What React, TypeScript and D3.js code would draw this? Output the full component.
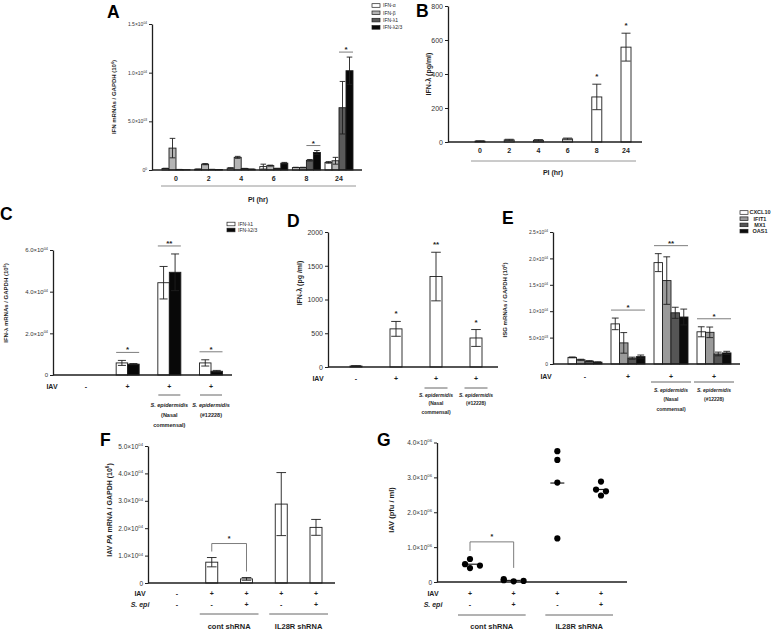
import * as d3 from "d3";
import { useEffect, useRef } from "react";

const FONT = "'Liberation Sans', Arial, sans-serif";
const INK = "#1e1e1e";
const RULE = "#8a8a8a";

// A: IFN mRNA time course
const timeLabels = ["0", "2", "4", "6", "8", "24"];
const ifnSeries = ["IFN-α", "IFN-β", "IFN-λ1", "IFN-λ2/3"];
const ifnFills = ["#ffffff", "#b4b4b4", "#5a5a5a", "#080808"];
const ifnMean = [
  [150, 2250, 50, 30],
  [80, 600, 60, 40],
  [200, 1300, 150, 80],
  [350, 450, 150, 700],
  [250, 250, 1000, 1800],
  [780, 950, 6400, 10200],
];
const ifnErr = [
  [30, 1000, 10, 0],
  [20, 60, 10, 10],
  [30, 100, 20, 10],
  [250, 50, 30, 80],
  [30, 30, 80, 200],
  [80, 350, 2700, 1400],
];
const ifnSig = ["", "", "", "", "*", "*"];

// B: IFN-λ protein time course
const lambdaPgTimeMean = [5, 12, 10, 18, 265, 558];
const lambdaPgTimeErr = [2, 4, 4, 5, 75, 82];
const lambdaPgTimeSig = ["", "", "", "", "*", "*"];

// C, D, E: IAV +/- S. epidermidis
const iavSigns = ["-", "+", "+", "+"];
const strainLabels = [[], [], ["S. epidermidis", "(Nasal", "commensal)"], ["S. epidermidis", "(#12228)"]];

const lambdaSeries = ["IFN-λ1", "IFN-λ2/3"];
const lambdaFills = ["#ffffff", "#080808"];
const lambdaMrnaMean = [[0, 0], [5800, 5200], [44300, 49300], [5800, 1800]];
const lambdaMrnaErr = [[0, 0], [1200, 300], [7800, 8800], [1500, 400]];
const lambdaMrnaSig = ["", "*", "**", "*"];

const lambdaPgMean = [15, 565, 1340, 430];
const lambdaPgErr = [5, 110, 360, 125];
const lambdaPgSig = ["", "*", "**", "*"];

const isgSeries = ["CXCL10", "IFIT1", "MX1", "OAS1"];
const isgFills = ["#ffffff", "#9a9a9a", "#555555", "#0c0c0c"];
const isgMean = [
  [1250, 800, 550, 350],
  [7600, 4000, 1100, 1400],
  [19200, 15800, 9700, 8900],
  [6100, 6000, 1900, 2100],
];
const isgErr = [
  [80, 100, 80, 60],
  [1100, 1950, 200, 300],
  [1700, 4500, 1050, 1500],
  [950, 1000, 350, 300],
];
const isgSig = ["", "*", "**", "*"];

// F, G: shRNA knockdown
const shGroups = ["cont shRNA", "IL28R shRNA"];
const paIav = ["-", "+", "+", "+", "+"];
const paSepi = ["-", "-", "+", "-", "+"];
const paMean = [0, 7600, 1500, 28800, 20300];
const paErr = [0, 1700, 500, 11500, 2900];

const pfuIav = ["+", "+", "+", "+"];
const pfuSepi = ["-", "+", "-", "+"];
const pfuValues = [
  [510000, 660000, 470000, 400000],
  [20000, 50000, 30000, 80000],
  [3750000, 3500000, 2850000, 1250000],
  [2880000, 2650000, 2600000, 2480000],
];

type Seg = { t: string; sup?: boolean; it?: boolean };

function rich(g: any, x: number, y: number, segs: Seg[] | string, size: number, o: any = {}) {
  const t = g
    .append("text")
    .attr("font-family", FONT)
    .attr("font-size", size)
    .attr("font-weight", o.weight || "normal")
    .attr("font-style", o.italic ? "italic" : "normal")
    .attr("text-anchor", o.anchor || "start")
    .attr("fill", o.fill || INK);
  if (o.rotate) t.attr("transform", `translate(${x},${y}) rotate(-90)`);
  else t.attr("x", x).attr("y", y);
  const list = typeof segs === "string" ? [{ t: segs }] : segs;
  let up = false;
  list.forEach((s: Seg) => {
    const sp = t.append("tspan").text(s.t);
    if (s.sup && !up) {
      sp.attr("font-size", size * 0.65).attr("dy", -size * 0.4);
      up = true;
    } else if (!s.sup && up) {
      sp.attr("dy", size * 0.4);
      up = false;
    }
    if (s.it) sp.attr("font-style", "italic");
  });
  return t;
}

function sciParts(v: number): [string, string] {
  if (v === 0) return ["0", ""];
  const e = Math.floor(Math.log10(v));
  return [(v / 10 ** e).toFixed(1) + "×10", String(e).padStart(2, "0")];
}

function leftAxis(g: any, y: any, x0: number, ticks: number[], size: number, sci: boolean, zeroSup = false) {
  const ax = g
    .append("g")
    .attr("transform", `translate(${x0},0)`)
    .call(d3.axisLeft(y).tickValues(ticks).tickSize(3).tickSizeOuter(0).tickPadding(2));
  ax.select(".domain").attr("stroke", INK).attr("stroke-width", 1.3);
  ax.selectAll(".tick line").attr("stroke", INK).attr("stroke-width", 1);
  ax.selectAll(".tick text")
    .attr("font-family", FONT)
    .attr("font-size", size)
    .attr("fill", "#333")
    .each(function (this: any, v: any) {
      const [m, e] = sci ? sciParts(v) : [String(v), ""];
      const sup = e || (zeroSup && v === 0 ? "0" : "");
      const t = d3.select(this);
      t.text(null);
      t.append("tspan").text(m);
      if (sup) t.append("tspan").attr("font-size", size * 0.65).attr("dy", -size * 0.4).text(sup);
    });
}

function baseLine(g: any, x0: number, x1: number, y: number) {
  g.append("line").attr("x1", x0).attr("x2", x1).attr("y1", y).attr("y2", y).attr("stroke", INK).attr("stroke-width", 1.3);
}

function rule(g: any, x0: number, x1: number, y: number, color = RULE) {
  g.append("line").attr("x1", x0).attr("x2", x1).attr("y1", y).attr("y2", y).attr("stroke", color).attr("stroke-width", 0.9);
}

function errBar(g: any, cx: number, v: number, e: number, y: any, cap: number) {
  if (!e) return;
  const p = d3.path();
  p.moveTo(cx, y(v + e));
  p.lineTo(cx, y(Math.max(0, v - e)));
  p.moveTo(cx - cap / 2, y(v + e));
  p.lineTo(cx + cap / 2, y(v + e));
  if (v - e > 0) {
    p.moveTo(cx - cap / 2, y(v - e));
    p.lineTo(cx + cap / 2, y(v - e));
  }
  g.append("path").attr("d", p.toString()).attr("stroke", INK).attr("stroke-width", 0.9).attr("fill", "none");
}

function groupedBars(g: any, means: number[][], errs: number[][], series: string[], fills: string[], x: any, inner: any, y: any, capFrac: number) {
  means.forEach((row, gi) =>
    row.forEach((v, si) => {
      if (!v) return;
      const bx = x(gi) + inner(series[si]);
      const bw = inner.bandwidth();
      g.append("rect")
        .attr("x", bx)
        .attr("y", y(v))
        .attr("width", bw)
        .attr("height", y(0) - y(v))
        .attr("fill", fills[si])
        .attr("stroke", INK)
        .attr("stroke-width", 0.9);
      errBar(g, bx + bw / 2, v, errs[gi][si], y, bw * capFrac);
    })
  );
}

function sigMark(g: any, xl: number, xr: number, yLine: number, mark: string, withLine: boolean) {
  if (withLine) rule(g, xl, xr, yLine, "#6e6e6e");
  rich(g, (xl + xr) / 2, withLine ? yLine : yLine + 2, mark, 8, { anchor: "middle", weight: "bold" });
}

function groupSig(g: any, marks: string[], means: number[][], errs: number[][], series: string[], from: number, to: number, x: any, inner: any, y: any, gap: number) {
  marks.forEach((m, gi) => {
    if (!m) return;
    const top = d3.min(d3.range(from, to + 1), (si) => y(means[gi][si] + errs[gi][si])) as number;
    const xl = x(gi) + inner(series[from]);
    const xr = x(gi) + inner(series[to]) + inner.bandwidth();
    sigMark(g, xl, xr, top - gap, m, true);
  });
}

function legend(g: any, x: number, y0: number, step: number, series: string[], fills: string[], size: number, textX: number, anchor = "start", weight = "normal") {
  series.forEach((s, i) => {
    const yy = y0 + i * step;
    g.append("rect").attr("x", x).attr("y", yy - 1.8).attr("width", 8).attr("height", 3.6).attr("fill", fills[i]).attr("stroke", INK).attr("stroke-width", 0.7);
    rich(g, textX, yy + size * 0.35, s, size, { anchor, weight });
  });
}

function letter(g: any, s: string, x: number, y: number) {
  rich(g, x, y, s, 17.5, { weight: "bold", fill: "#000" });
}

function strainBlock(g: any, x: any, yLine: number, halfW: number, rows: number[], size: number) {
  strainLabels.forEach((lines, gi) => {
    if (!lines.length) return;
    rule(g, x(gi) - halfW, x(gi) + halfW, yLine, "#555");
    lines.forEach((l, i) =>
      rich(g, x(gi), rows[i], i === 0 ? [{ t: l, it: true }] : l, size, { anchor: "middle", weight: "bold" })
    );
  });
}

function signRow(g: any, x: any, signs: string[], y: number, size: number) {
  signs.forEach((s, i) => rich(g, x(i), y, s, size, { anchor: "middle", weight: "bold" }));
}

function drawA(svg: any) {
  const g = svg.append("g");
  const y = d3.scaleLinear().domain([0, 15000]).range([170, 24]);
  const x = d3.scalePoint<number>().domain(d3.range(timeLabels.length)).range([176, 339]);
  const inner = d3.scaleBand().domain(ifnSeries).range([-14, 14]);
  leftAxis(g, y, 152, [0, 5000, 10000, 15000], 5, true, true);
  groupedBars(g, ifnMean, ifnErr, ifnSeries, ifnFills, x, inner, y, 0.8);
  baseLine(g, 152, 362, y(0));
  groupSig(g, ifnSig, ifnMean, ifnErr, ifnSeries, 2, 3, x, inner, y, 5);
  timeLabels.forEach((t, i) => rich(g, x(i), 181, t, 7, { anchor: "middle", weight: "bold" }));
  rule(g, 161, 356, 186);
  rich(g, 258, 202, "PI (hr)", 7, { anchor: "middle", weight: "bold" });
  rich(g, 116, 97, [{ t: "IFN mRNAs / GAPDH (10" }, { t: "6", sup: true }, { t: ")" }], 6, { anchor: "middle", weight: "bold", rotate: true });
  legend(g, 372, 5.5, 7.3, ifnSeries, ifnFills, 5, 383);
  letter(g, "A", 107, 18);
}

function drawB(svg: any) {
  const g = svg.append("g");
  const y = d3.scaleLinear().domain([0, 800]).range([142, 6]);
  const x = d3.scalePoint<number>().domain(d3.range(timeLabels.length)).range([480, 626]);
  const inner = d3.scaleBand().domain([""]).range([-5, 5]);
  leftAxis(g, y, 448, [0, 200, 400, 600, 800], 7, false);
  groupedBars(g, lambdaPgTimeMean.map((v) => [v]), lambdaPgTimeErr.map((v) => [v]), [""], ["#fff"], x, inner, y, 0.9);
  baseLine(g, 448, 642, y(0));
  lambdaPgTimeSig.forEach((m, i) => {
    if (m) sigMark(g, x(i)!, x(i)!, y(lambdaPgTimeMean[i] + lambdaPgTimeErr[i]) - 7, m, false);
  });
  timeLabels.forEach((t, i) => rich(g, x(i), 153, t, 7, { anchor: "middle", weight: "bold" }));
  rule(g, 471, 636, 161);
  rich(g, 553, 175, "PI (hr)", 7, { anchor: "middle", weight: "bold" });
  rich(g, 431, 74, "IFN-λ (pg/ml)", 7, { anchor: "middle", weight: "bold", rotate: true });
  letter(g, "B", 416, 17);
}

function drawC(svg: any) {
  const g = svg.append("g");
  const y = d3.scaleLinear().domain([0, 60000]).range([375, 250]);
  const x = d3.scalePoint<number>().domain(d3.range(iavSigns.length)).range([86, 211]);
  const inner = d3.scaleBand().domain(lambdaSeries).range([-11.5, 11.5]);
  leftAxis(g, y, 53, [0, 20000, 40000, 60000], 6, true);
  groupedBars(g, lambdaMrnaMean, lambdaMrnaErr, lambdaSeries, lambdaFills, x, inner, y, 0.7);
  baseLine(g, 53, 232, y(0));
  groupSig(g, lambdaMrnaSig, lambdaMrnaMean, lambdaMrnaErr, lambdaSeries, 0, 1, x, inner, y, 8);
  rich(g, 52, 389, "IAV", 7, { anchor: "middle", weight: "bold" });
  signRow(g, x, iavSigns, 389, 7);
  strainBlock(g, x, 395, 11, [407, 417, 427], 5.5);
  rich(g, 8, 303, [{ t: "IFN-λ mRNAs / GAPDH (10" }, { t: "6", sup: true }, { t: ")" }], 6, { anchor: "middle", weight: "bold", rotate: true });
  legend(g, 227, 224, 6, lambdaSeries, lambdaFills, 5, 238);
  letter(g, "C", 0, 220);
}

function drawD(svg: any) {
  const g = svg.append("g");
  const y = d3.scaleLinear().domain([0, 2000]).range([367, 232]);
  const x = d3.scalePoint<number>().domain(d3.range(iavSigns.length)).range([356, 476]);
  const inner = d3.scaleBand().domain([""]).range([-6, 6]);
  leftAxis(g, y, 328, [0, 500, 1000, 1500, 2000], 7, false);
  groupedBars(g, lambdaPgMean.map((v) => [v]), lambdaPgErr.map((v) => [v]), [""], ["#fff"], x, inner, y, 0.8);
  baseLine(g, 328, 498, y(0));
  lambdaPgSig.forEach((m, i) => {
    if (m) sigMark(g, x(i)!, x(i)!, y(lambdaPgMean[i] + lambdaPgErr[i]) - 7, m, false);
  });
  rich(g, 318, 381, "IAV", 7, { anchor: "middle", weight: "bold" });
  signRow(g, x, iavSigns, 381, 7);
  strainBlock(g, x, 388, 11.5, [397, 405, 414], 5);
  rich(g, 302, 283, "IFN-λ (pg /ml)", 7, { anchor: "middle", weight: "bold", rotate: true });
  letter(g, "D", 287, 227);
}

function drawE(svg: any) {
  const g = svg.append("g");
  const y = d3.scaleLinear().domain([0, 25000]).range([364, 232]);
  const x = d3.scalePoint<number>().domain(d3.range(iavSigns.length)).range([585, 714]);
  const inner = d3.scaleBand().domain(isgSeries).range([-17, 17]);
  leftAxis(g, y, 553, [0, 5000, 10000, 15000, 20000, 25000], 5, true);
  groupedBars(g, isgMean, isgErr, isgSeries, isgFills, x, inner, y, 0.8);
  baseLine(g, 553, 740, y(0));
  groupSig(g, isgSig, isgMean, isgErr, isgSeries, 0, 3, x, inner, y, 8);
  rich(g, 546, 379, "IAV", 7, { anchor: "middle", weight: "bold" });
  signRow(g, x, iavSigns, 379, 7);
  strainBlock(g, x, 382, 20, [392, 401, 411], 5);
  rich(g, 507, 300, [{ t: "ISG mRNAs / GAPDH (10" }, { t: "6", sup: true }, { t: ")" }], 6, { anchor: "middle", weight: "bold", rotate: true });
  legend(g, 740, 212.5, 6.2, isgSeries, isgFills, 5.5, 760, "middle", "bold");
  letter(g, "E", 502, 224);
}

function shRows(g: any, x: any, iav: string[], sepi: string[], labelX: number, lineY: number, spans: number[][], size: number) {
  rich(g, labelX, 596, "IAV", size, { anchor: "middle", weight: "bold" });
  rich(g, labelX, 607, "S. epi", size, { anchor: "middle", weight: "bold", italic: true });
  signRow(g, x, iav, 596, size);
  sepi.forEach((s, i) => rich(g, x(i), 607, s, size, { anchor: "middle", weight: "bold" }));
  shGroups.forEach((name, k) => {
    const [a, b] = spans[k];
    rule(g, x(a) - 12, x(b) + 12, lineY, "#555");
    rich(g, (x(a) + x(b)) / 2, 629, name, 7.5, { anchor: "middle", weight: "bold" });
  });
}

function bracket(g: any, xl: number, xr: number, top: number, yl: number, yr: number, mark: string) {
  const p = d3.path();
  p.moveTo(xl, yl);
  p.lineTo(xl, top);
  p.lineTo(xr, top);
  p.lineTo(xr, yr);
  g.append("path").attr("d", p.toString()).attr("fill", "none").attr("stroke", "#6e6e6e").attr("stroke-width", 0.9);
  rich(g, (xl + xr) / 2, top - 3, mark, 7, { anchor: "middle", weight: "bold" });
}

function drawF(svg: any) {
  const g = svg.append("g");
  const y = d3.scaleLinear().domain([0, 50000]).range([583, 446]);
  const x = d3.scalePoint<number>().domain(d3.range(paIav.length)).range([177, 316]);
  const inner = d3.scaleBand().domain([""]).range([-6, 6]);
  leftAxis(g, y, 148, [0, 10000, 20000, 30000, 40000, 50000], 6.5, true);
  groupedBars(g, paMean.map((v) => [v]), paErr.map((v) => [v]), [""], ["#fff"], x, inner, y, 0.8);
  baseLine(g, 148, 335, y(0));
  const tl = y(paMean[1] + paErr[1]);
  const tr = y(paMean[2] + paErr[2]);
  bracket(g, x(1)!, x(2)!, Math.min(tl, tr) - 14, tl - 6, tr - 6, "*");
  shRows(g, x, paIav, paSepi, 140, 614, [[1, 2], [3, 4]], 7);
  rich(g, 112, 510, [{ t: "IAV " }, { t: "PA", it: true }, { t: " mRNA / GAPDH (10" }, { t: "6", sup: true }, { t: ")" }], 7, { anchor: "middle", weight: "bold", rotate: true });
  letter(g, "F", 100, 446);
}

// spread overlapping dots sideways: centre first, then right, then left
function dodge(vals: number[], y: any, r: number) {
  const order = d3.range(vals.length).sort((a, b) => vals[a] - vals[b]);
  const off = vals.map(() => 0);
  const placed: { x: number; y: number }[] = [];
  const cands = [0, 1, -1, 2, -2].map((k) => k * r * 1.6);
  order.forEach((i) => {
    const py = y(vals[i]);
    const c = cands.find((c) => placed.every((p) => Math.hypot(p.x - c, p.y - py) >= r * 1.8));
    off[i] = c === undefined ? cands[cands.length - 1] : c;
    placed.push({ x: off[i], y: py });
  });
  return off;
}

function drawG(svg: any) {
  const g = svg.append("g");
  const y = d3.scaleLinear().domain([0, 4000000]).range([582, 442.5]);
  const x = d3.scalePoint<number>().domain(d3.range(pfuIav.length)).range([470, 601]);
  const r = 3.1;
  leftAxis(g, y, 437, [0, 1000000, 2000000, 3000000, 4000000], 6.5, true);
  baseLine(g, 437, 627, y(0));
  pfuValues.forEach((vals, gi) => {
    const mean = d3.mean(vals) as number;
    g.append("line").attr("x1", x(gi)! - 7).attr("x2", x(gi)! + 7).attr("y1", y(mean)).attr("y2", y(mean)).attr("stroke", INK).attr("stroke-width", 1.2);
    const off = dodge(vals, y, r);
    vals.forEach((v, i) => g.append("circle").attr("cx", x(gi)! + off[i]).attr("cy", y(v)).attr("r", r).attr("fill", "#000"));
  });
  const tl = y(d3.max(pfuValues[0]) as number) - r;
  const tr = y(d3.max(pfuValues[1]) as number) - r;
  bracket(g, x(0)!, x(1)!, Math.min(tl, tr) - 14, tl - 5, Math.min(tr - 8, tl + 12), "*");
  shRows(g, x, pfuIav, pfuSepi, 433, 615, [[0, 1], [2, 3]], 7);
  rich(g, 394, 510, "IAV (pfu / ml)", 7.5, { anchor: "middle", weight: "bold", rotate: true });
  letter(g, "G", 377, 446);
}

export default function App() {
  const ref = useRef<SVGSVGElement>(null);
  useEffect(() => {
    const svg = d3.select(ref.current);
    svg.selectAll("*").remove();
    drawA(svg);
    drawB(svg);
    drawC(svg);
    drawD(svg);
    drawE(svg);
    drawF(svg);
    drawG(svg);
  }, []);
  return (
    <svg
      ref={ref}
      width={778}
      height={630}
      style={{ position: "absolute", left: 0, top: 0, background: "#fff" }}
    />
  );
}
